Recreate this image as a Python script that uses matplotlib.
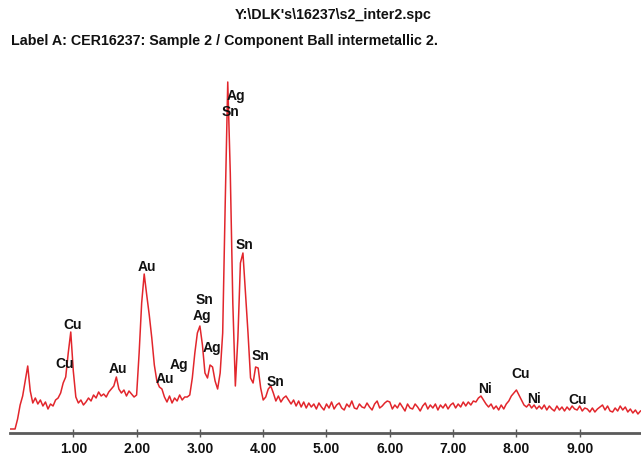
import numpy as np
import matplotlib
matplotlib.use("Agg")
import matplotlib.pyplot as plt
from matplotlib import font_manager

# EDS spectrum, 0.04 keV channels from 0 to 9.96 keV
energy_step = 0.04
counts = [
    4, 4, 4, 14, 28, 37, 52, 67, 42, 30,          # 0.00 - 0.36
    35, 29, 33, 27, 31, 24, 29, 27, 33, 35,       # 0.40 - 0.76
    40, 50, 56, 80, 101, 62, 36, 30, 33, 28,      # 0.80 - 1.16
    31, 35, 32, 38, 35, 41, 37, 39, 36, 41,       # 1.20 - 1.56
    44, 47, 56, 44, 40, 43, 37, 42, 39, 36,       # 1.60 - 1.96
    38, 80, 130, 159, 138, 118, 95, 68, 52, 46,   # 2.00 - 2.36
    44, 36, 31, 37, 30, 35, 32, 38, 33, 36,       # 2.40 - 2.76
    36, 38, 55, 80, 100, 107, 88, 60, 55, 68,     # 2.80 - 3.16
    66, 52, 44, 60, 100, 230, 351, 260, 130, 47,  # 3.20 - 3.56
    95, 170, 180, 140, 100, 55, 50, 66, 65, 45,   # 3.60 - 3.96
    33, 36, 44, 47, 40, 32, 37, 31, 35, 37,       # 4.00 - 4.36
    33, 29, 33, 27, 32, 26, 31, 25, 30, 26,       # 4.40 - 4.76
    29, 24, 30, 26, 23, 29, 25, 31, 24, 28,       # 4.80 - 5.16
    30, 25, 23, 29, 26, 32, 25, 24, 29, 26,       # 5.20 - 5.56
    25, 30, 26, 23, 29, 32, 25, 27, 30, 32,       # 5.60 - 5.96
    31, 24, 28, 25, 30, 26, 22, 29, 25, 24,       # 6.00 - 6.36
    29, 26, 22, 27, 30, 24, 28, 25, 29, 23,       # 6.40 - 6.76
    28, 25, 29, 24, 28, 30, 25, 29, 26, 31,       # 6.80 - 7.16
    27, 31, 28, 32, 31, 35, 37, 33, 29, 26,       # 7.20 - 7.56
    29, 24, 27, 23, 28, 24, 29, 32, 37, 40,       # 7.60 - 7.96
    43, 38, 33, 28, 26, 29, 25, 28, 24, 27,       # 8.00 - 8.36
    24, 28, 23, 27, 24, 22, 27, 23, 26, 22,       # 8.40 - 8.76
    26, 23, 27, 24, 23, 27, 22, 25, 24, 21,       # 8.80 - 9.16
    25, 21, 24, 26, 28, 23, 27, 22, 21, 25,       # 9.20 - 9.56
    22, 27, 23, 26, 21, 24, 20, 23, 19, 22,       # 9.60 - 9.96
]
energy = np.arange(len(counts)) * energy_step

# element markers: (text, keV, counts)
peak_labels = [
    ("Ag", 3.57, 338), ("Sn", 3.49, 322),
    ("Sn", 3.70, 189),
    ("Au", 2.16, 167),
    ("Cu", 0.995, 109), ("Cu", 0.87, 70),
    ("Au", 1.71, 65),
    ("Sn", 3.07, 134), ("Ag", 3.03, 118),
    ("Ag", 3.19, 86),
    ("Ag", 2.67, 69), ("Au", 2.45, 55),
    ("Sn", 3.95, 78), ("Sn", 4.19, 52),
    ("Ni", 7.50, 45), ("Cu", 8.06, 60), ("Ni", 8.28, 35), ("Cu", 8.96, 34),
]

font_name = "Liberation Sans Narrow"
if not any(f.name == font_name for f in font_manager.fontManager.ttflist):
    font_name = "Liberation Sans"
plt.rcParams["font.family"] = [font_name, "DejaVu Sans"]
plt.rcParams["font.weight"] = "bold"

fig = plt.figure(figsize=(6.41, 4.56), dpi=100)
ax = fig.add_axes([10 / 641, 22 / 456, 631 / 641, 384 / 456])

ax.plot(energy, counts, color="#e2262c", lw=1.1)

for text, x, y in peak_labels:
    ax.text(x, y, text, ha="center", va="center", fontsize=10,
            fontweight="bold", color="#111111")

ax.set_xlim(0, 631 / 63.3)
ax.set_ylim(0, 384)
ax.set_xticks(np.arange(1, 10))
ax.set_xticklabels(["%.2f" % v for v in range(1, 10)])
ax.set_yticks([])
for side in ("top", "right", "left"):
    ax.spines[side].set_visible(False)
ax.spines["bottom"].set_color("#5a5a5a")
ax.spines["bottom"].set_linewidth(2)
ax.tick_params(axis="x", direction="inout", length=6, width=1,
               color="#5a5a5a", pad=2.5, labelsize=10)
for lbl in ax.get_xticklabels():
    lbl.set_fontweight("bold")
    lbl.set_color("#111111")

fig.text(333 / 641, 1 - 15 / 456, "Y:\\DLK's\\16237\\s2_inter2.spc",
         ha="center", va="center", fontsize=10.3, fontweight="bold", color="#111111")
fig.text(11 / 641, 1 - 41 / 456,
         "Label A: CER16237: Sample 2 / Component Ball intermetallic 2.",
         ha="left", va="center", fontsize=10.3, fontweight="bold", color="#111111")

fig.savefig("out.png", dpi=100, facecolor="white")
